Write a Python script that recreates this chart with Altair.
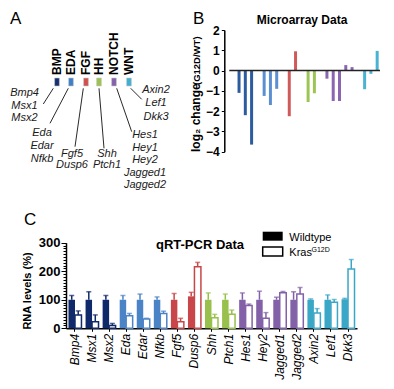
import altair as alt
import pandas as pd

FONT = "Liberation Sans, Arial, Helvetica, sans-serif"

# ---------------- data ----------------
pathways = ["BMP", "EDA", "FGF", "HH", "NOTCH", "WNT"]
pathway_genes = [
    ["Bmp4", "Msx1", "Msx2"],
    ["Eda", "Edar", "Nfkb"],
    ["Fgf5", "Dusp6"],
    ["Shh", "Ptch1"],
    ["Hes1", "Hey1", "Hey2", "Jagged1", "Jagged2"],
    ["Axin2", "Lef1", "Dkk3"],
]
colors_a = ["#14306e", "#3f7fc8", "#d0504f", "#9bc34f", "#8561ab", "#3fb0d0"]
colors_b = ["#2b5c9f", "#5a8fd0", "#d05a5a", "#9cc554", "#8a66b0", "#4bb3d2"]
colors_c = ["#10296a", "#4b84c6", "#c8464a", "#98c04c", "#8361a8", "#3ba7c6"]

micro_genes = [g for grp in pathway_genes for g in grp]
micro_log2 = [-1.1, -2.2, -3.65, -1.25, -1.7, -0.9, -2.25, 0.95, -1.55, -1.12,
              -0.4, -1.5, -1.5, 0.27, 0.17, -0.92, -0.16, 0.97]

qpcr_genes = ["Bmp4", "Msx1", "Msx2", "Eda", "Edar", "Nfkb", "Fgf5", "Dusp6", "Shh",
              "Ptch1", "Hes1", "Hey2", "Jagged1", "Jagged2", "Axin2", "Lef1", "Dkk3"]
qpcr_wt = [100, 100, 100, 100, 100, 100, 100, 112, 100, 100, 100, 100, 100, 100, 100, 100, 102]
qpcr_wt_err = [15, 28, 15, 15, 20, 10, 22, 14, 24, 20, 24, 30, 9, 28, 3, 17, 3]
qpcr_kras = [47, 23, 10, 44, 33, 52, 23, 216, 37, 49, 80, 35, 125, 120, 54, 91, 208]
qpcr_kras_err = [14, 24, 7, 8, 2, 8, 12, 15, 12, 15, 5, 20, 4, 23, 15, 10, 33]

legend_labels = ["Wildtype", "Kras"]
legend_sup = "G12D"

# ---------------- layout (diagram / annotation positions, px) ----------------
W, H = 378, 373
sq_x = [49, 63, 78, 91, 106, 121]
sq_y = 74
path_label_bottom = 67
grp_x = [16.5, 34, 64, 99, 137, 148]
grp_y0 = [85, 125, 146, 146, 127, 82]
grp_step = [12.5, 13, 10.5, 10.5, 12.5, 13.3]
line_start = [(45.3, 80.3), (60.3, 80.3), (75.3, 80.3), (91, 80.3), (108.7, 80.3), (122.7, 80.3)]
line_end = [(35.3, 96), (42, 115.3), (67, 138.7), (96, 140.3), (123.7, 123.7), (133.7, 91.3)]

B_XDOM = [-1.55, 22.45]
B_XRANGE = [216.3, 377]
B_YRANGE = [143.7, 22]
C_XRANGE = [58, 349]
C_YRANGE = [320.3, 234.7]

CX = alt.Scale(domain=[0, W], range=[0, W], nice=False, zero=False)
CY = alt.Scale(domain=[0, H], range=[0, H], nice=False, zero=False)


def ctext(rows, color="black", **mk):
    df = pd.DataFrame(rows, columns=["t", "x", "y", "s", "a"])
    return alt.Chart(df).mark_text(font=FONT, color=color, **mk).encode(
        x=alt.X("x:Q", scale=CX, axis=None),
        y=alt.Y("y:Q", scale=CY, axis=None),
        text=alt.Text("t:N"),
        size=alt.Size("s:Q", scale=None),
        angle=alt.Angle("a:Q", scale=None),
    )


# ---------------- panel A + annotations (canvas) ----------------
lines_df = pd.DataFrame({
    "x": [p[0] for p in line_start], "y": [p[1] for p in line_start],
    "x2": [p[0] for p in line_end], "y2": [p[1] for p in line_end]})
lines = alt.Chart(lines_df).mark_rule(color="#111", strokeWidth=0.9).encode(
    x=alt.X("x:Q", scale=CX, axis=None), y=alt.Y("y:Q", scale=CY, axis=None),
    x2="x2:Q", y2="y2:Q")

sq_df = pd.DataFrame({"p": pathways, "x": sq_x, "y": [sq_y] * len(pathways)})
squares = alt.Chart(sq_df).mark_point(
    shape="M-0.6,-1H0.6V1H-0.6Z", size=64, filled=True, opacity=1,
    stroke="#c8c8c8", strokeWidth=0.6).encode(
    x=alt.X("x:Q", scale=CX, axis=None), y=alt.Y("y:Q", scale=CY, axis=None),
    fill=alt.Fill("p:N", scale=alt.Scale(domain=pathways, range=colors_a), legend=None))

path_labels = ctext([(p, sq_x[i], path_label_bottom, 12, 270) for i, p in enumerate(pathways)],
                    align="left", baseline="middle", fontWeight="bold")

gene_rows = []
for i, grp in enumerate(pathway_genes):
    for j, g in enumerate(grp):
        gene_rows.append((g, grp_x[i], grp_y0[i] + j * grp_step[i], 11, 0))
gene_labels = ctext(gene_rows, color="#1a1a1a", align="center", baseline="middle", fontStyle="italic")

letters = ctext([("A", 2, 15.5, 17, 0), ("B", 185, 15.5, 17, 0), ("C", 16, 217, 17, 0)],
                align="left", baseline="alphabetic")
titles = ctext([("Microarray Data", 294, 15.5, 12, 0), ("qRT-PCR Data", 192, 241, 13, 0)],
               align="center", baseline="alphabetic", fontWeight="bold")
ytitles = ctext([("log\u2082 change", 191.5, 144, 12, 270), ("(G12D/WT)", 191.5, 77, 9.5, 270)],
                align="left", baseline="alphabetic", fontWeight="bold")
ytitleC = ctext([("RNA levels (%)", 23, 283, 11, 270)],
                align="center", baseline="alphabetic", fontWeight="bold")

leg_df = pd.DataFrame({"lab": legend_labels, "x": [254.7, 254.7], "x2": [274.7, 274.7],
                       "y": [223.7, 239], "y2": [232.7, 248]})
leg_fill = alt.Chart(leg_df.iloc[[0]]).mark_rect(color="black").encode(
    x=alt.X("x:Q", scale=CX, axis=None), x2="x2:Q",
    y=alt.Y("y:Q", scale=CY, axis=None), y2="y2:Q")
leg_open = alt.Chart(leg_df.iloc[[1]]).mark_rect(fill="white", stroke="black", strokeWidth=1.5).encode(
    x=alt.X("x:Q", scale=CX, axis=None), x2="x2:Q",
    y=alt.Y("y:Q", scale=CY, axis=None), y2="y2:Q")
leg_text = ctext([(legend_labels[0], 281.3, 229.7, 11, 0), (legend_labels[1], 281.3, 245, 11, 0)],
                 align="left", baseline="middle")
leg_sup = ctext([(legend_sup, 303.5, 241.5, 7, 0)], align="left", baseline="middle")

canvas = alt.layer(lines, squares, path_labels, gene_labels, letters, titles, ytitles, ytitleC,
                   leg_fill, leg_open, leg_text, leg_sup)

# ---------------- panel B ----------------
b_rows = []
k = 0
for i, grp in enumerate(pathway_genes):
    for g in grp:
        b_rows.append({"gene": g, "pathway": pathways[i], "slot": k + i, "v": micro_log2[k]})
        k += 1
dfB = pd.DataFrame(b_rows)
xB = alt.Scale(domain=B_XDOM, range=B_XRANGE, nice=False, zero=False)
yB = alt.Scale(domain=[-4, 2], range=B_YRANGE, nice=False, zero=False)
yaxisB = alt.Axis(orient="left", offset=-B_XRANGE[0], values=[-4, -3, -2, -1, 0, 1, 2], title=None,
                  grid=False, domainColor="black", domainWidth=1.5, tickColor="black", tickSize=3,
                  tickWidth=1, labelFont=FONT, labelFontSize=12, labelFontWeight="bold",
                  labelColor="black", labelPadding=2, labelFlush=False)
barsB = alt.Chart(dfB).mark_bar(width=3).encode(
    x=alt.X("slot:Q", scale=xB, axis=None),
    y=alt.Y("v:Q", scale=yB, axis=yaxisB),
    y2=alt.datum(0),
    color=alt.Color("pathway:N", scale=alt.Scale(domain=pathways, range=colors_b), legend=None))
zeroB = alt.Chart(pd.DataFrame({"x0": [B_XDOM[0]], "x1": [B_XDOM[1]], "y": [0]})).mark_rule(
    color="#222", strokeWidth=1.5).encode(
    x=alt.X("x0:Q", scale=xB, axis=None), x2="x1:Q",
    y=alt.Y("y:Q", scale=yB, axis=yaxisB))
panelB = alt.layer(barsB, zeroB)

# ---------------- panel C ----------------
gene2path = {g: pathways[i] for i, grp in enumerate(pathway_genes) for g in grp}
c_rows = []
for i, g in enumerate(qpcr_genes):
    c_rows.append({"gene": g, "pathway": gene2path[g], "cond": "WT", "v": qpcr_wt[i],
                   "top": qpcr_wt[i] + qpcr_wt_err[i]})
    c_rows.append({"gene": g, "pathway": gene2path[g], "cond": "Kras", "v": qpcr_kras[i],
                   "top": qpcr_kras[i] + qpcr_kras_err[i]})
dfC = pd.DataFrame(c_rows)
xC = alt.Scale(domain=qpcr_genes, range=C_XRANGE, paddingInner=0.24, paddingOuter=0.146)
yC = alt.Scale(domain=[0, 300], range=C_YRANGE, nice=False, zero=False)
xoC = alt.Scale(domain=["WT", "Kras"])
colC = alt.Scale(domain=pathways, range=colors_c)
xaxisC = alt.Axis(orient="bottom", offset=C_YRANGE[0] - H, title=None, labelAngle=270,
                  labelFont=FONT, labelFontSize=12, labelFontStyle="italic", labelColor="black",
                  tickSize=3, tickColor="black", domainColor="black", domainWidth=1.5,
                  labelPadding=2, grid=False)
yaxisC = alt.Axis(orient="left", offset=-C_XRANGE[0], values=list(range(0, 301, 10)),
                  labelExpr="datum.value % 100 === 0 ? datum.label : ''",
                  tickSize={"condition": {"test": "datum.value % 100 === 0", "value": 5}, "value": 3},
                  title=None, grid=False, domainColor="black", domainWidth=1.5, tickColor="black",
                  tickWidth=1, labelFont=FONT, labelFontSize=13, labelFontWeight="bold",
                  labelColor="black", labelPadding=1, labelFlush=False)

def cenc(**extra):
    return dict(
        x=alt.X("gene:N", scale=xC, axis=xaxisC, sort=qpcr_genes),
        xOffset=alt.XOffset("cond:N", scale=xoC),
        **extra)

wtC = alt.Chart(dfC[dfC.cond == "WT"]).mark_bar().encode(
    **cenc(y=alt.Y("v:Q", scale=yC, axis=yaxisC),
           color=alt.Color("pathway:N", scale=colC, legend=None)))
krasC = alt.Chart(dfC[dfC.cond == "Kras"]).mark_bar(fill="white", strokeWidth=1.5).encode(
    **cenc(y=alt.Y("v:Q", scale=yC, axis=yaxisC),
           stroke=alt.Stroke("pathway:N", scale=colC, legend=None)))
errC = alt.Chart(dfC).mark_rule(strokeWidth=1.5).encode(
    **cenc(y=alt.Y("v:Q", scale=yC, axis=yaxisC), y2="top:Q",
           color=alt.Color("pathway:N", scale=colC, legend=None)))
capC = alt.Chart(dfC).mark_tick(thickness=1.5, size=5).encode(
    **cenc(y=alt.Y("top:Q", scale=yC, axis=yaxisC),
           color=alt.Color("pathway:N", scale=colC, legend=None)))
panelC = alt.layer(errC, capC, wtC, krasC)

chart = alt.layer(canvas, panelB, panelC).resolve_scale(
    x="independent", y="independent", color="independent", fill="independent",
    stroke="independent", size="independent", angle="independent"
).properties(width=W, height=H, padding=0,
             autosize=alt.AutoSizeParams(type="none")).configure_view(stroke=None)

chart.save("out.html", embed_options={"renderer": "svg", "actions": False})
